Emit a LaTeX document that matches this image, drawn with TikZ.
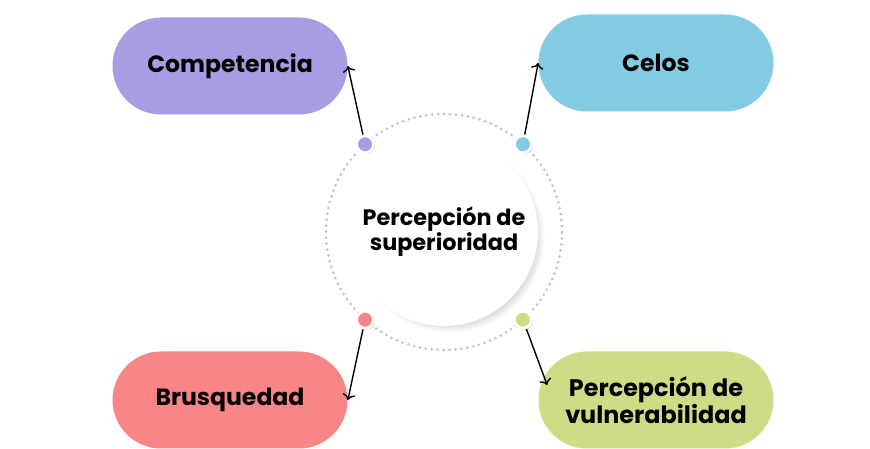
\documentclass[tikz,border=0pt]{standalone}
\usepackage{fontspec}
\setmainfont{Poppins}
\usepackage{xcolor}
\usetikzlibrary{shapes,arrows,positioning,calc,shadows,arrows.meta}

\definecolor{compcol}{HTML}{A79DE3}
\definecolor{celoscol}{HTML}{82CBE2}
\definecolor{bruscol}{HTML}{F98686}
\definecolor{vulncol}{HTML}{D0DB86}
\definecolor{ringcol}{HTML}{C4C4C4}

\tikzset{
    pill/.style={rounded rectangle, minimum width=4.7cm, minimum height=1.94cm, inner sep=0pt,
        align=center, font=\bfseries\fontsize{13.4}{15.5}\selectfont},
    dot/.style={circle, draw=white, line width=1.6pt, minimum size=0.34cm, inner sep=0pt,
        drop shadow={shadow xshift=0.9pt, shadow yshift=-0.9pt, opacity=0.3}},
    link/.style={->, thick, >=To}
}

\begin{document}
\begin{tikzpicture}
    \useasboundingbox [fill=white] (0,0) rectangle (17.4,8.98);

    \coordinate (ctr) at (8.88,4.34);
    \draw [ringcol, line width=1.7pt, line cap=round, dash pattern=on 0pt off 3.4pt] (ctr) circle (2.36cm);
    \foreach \r in {0,...,9}
        \fill [black, opacity=0.014] ($(ctr)+(0.11,-0.11)$) circle ({1.72cm+\r*0.02cm});
    \node [circle, fill=white, minimum size=3.76cm, inner sep=0pt, align=center,
        font=\bfseries\fontsize{12.7}{14.2}\selectfont] (mid) at (ctr) {Percepción de\\superioridad};

    \node [pill, fill=compcol] (comp) at (4.6,7.66) {Competencia};
    \node [pill, fill=celoscol] (celos) at (13.12,7.72) {Celos};
    \node [pill, fill=bruscol] (brus) at (4.6,0.98) {Brusquedad};
    \node [pill, fill=vulncol, font=\bfseries\fontsize{13.6}{15.3}\selectfont] (vuln) at (13.12,0.98) {Percepción de\\vulnerabilidad};

    \node [dot, fill=compcol] (dcomp) at ($(ctr)+(132:2.36)$) {};
    \node [dot, fill=celoscol] (dcelos) at ($(ctr)+(48:2.36)$) {};
    \node [dot, fill=bruscol] (dbrus) at ($(ctr)+(228:2.36)$) {};
    \node [dot, fill=vulncol] (dvuln) at ($(ctr)+(312:2.36)$) {};

    \coordinate (vulntip) at ($(vuln.west)+(0.18,0.3)$);

    \draw [link] (dcomp) -- (comp.east);
    \draw [link] (dcelos) -- (celos.west);
    \draw [link] (dbrus) -- (brus.east);
    \draw [link] (dvuln) -- (vulntip);
\end{tikzpicture}
\end{document}
